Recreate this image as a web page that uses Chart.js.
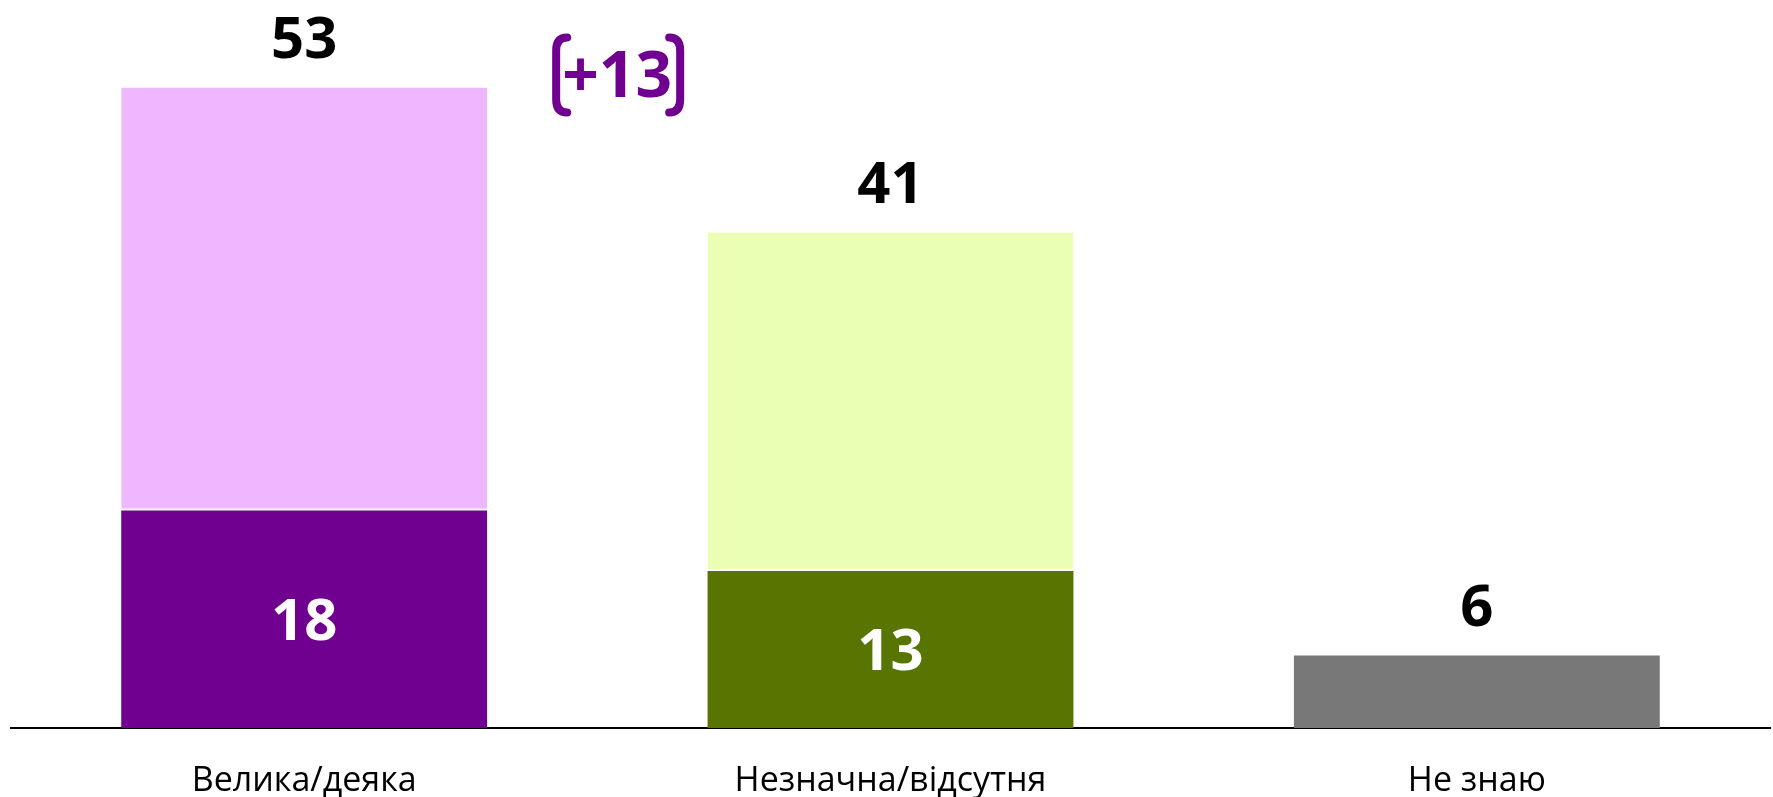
<!DOCTYPE html>
<html>
<head>
<meta charset="utf-8">
<script src="https://cdn.jsdelivr.net/npm/chart.js@4/dist/chart.umd.min.js"></script>
<style>
  html, body { margin: 0; padding: 0; background: #ffffff; }
  #wrap { width: 1773px; height: 797px; position: relative; }
</style>
</head>
<body>
<div id="wrap"><canvas id="c" width="1773" height="797"></canvas></div>
<script>
// ---- data ----
const categories = ['Велика/деяка', 'Незначна/відсутня', 'Не знаю'];
const baseValues = [18, 13, 6];      // dark segment (or whole bar for "Не знаю")
const restValues = [35, 28, 0];      // light segment stacked on top
const totalLabels = ['53', '41', '6'];
const innerLabels = ['18', '13', ''];
const changeLabel = '+13';

// ---- styles ----
const darkColors = ['#700090', '#577500', '#787878'];
const lightColors = ['#EEB7FF', '#EAFFB4', '#EAEAEA'];
const numFont = 'bold 58px "Open Sans", sans-serif';
const changeFont = 'bold 64px "Open Sans", sans-serif';

const labelsPlugin = {
  id: 'valueLabels',
  afterDatasetsDraw(chart) {
    const ctx = chart.ctx;
    const xs = chart.scales.x, ys = chart.scales.y;
    ctx.save();
    ctx.font = numFont;
    ctx.textAlign = 'center';
    categories.forEach((c, i) => {
      const x = xs.getPixelForValue(i);
      const topVal = baseValues[i] + restValues[i];
      const yTop = ys.getPixelForValue(topVal);
      ctx.fillStyle = '#000000';
      ctx.textBaseline = 'alphabetic';
      ctx.fillText(totalLabels[i], x, yTop - 30);
      if (innerLabels[i]) {
        const yMid = (ys.getPixelForValue(0) + ys.getPixelForValue(baseValues[i])) / 2;
        ctx.fillStyle = '#ffffff';
        ctx.textBaseline = 'middle';
        ctx.fillText(innerLabels[i], x, yMid + 4);
      }
    });
    // change annotation with brackets
    const cx = xs.getPixelForValue(0) + 313;
    const cy = ys.getPixelForValue(baseValues[0] + restValues[0]) - 12;
    ctx.font = changeFont;
    ctx.fillStyle = '#700090';
    ctx.textBaseline = 'middle';
    ctx.fillText(changeLabel, cx, cy + 3);
    ctx.strokeStyle = '#700090';
    ctx.lineWidth = 8;
    ctx.lineCap = 'round';
    const top = cy - 38, bot = cy + 37, r = 13;
    const xl = cx - 61, xr = cx + 63;
    ctx.beginPath();
    ctx.moveTo(xl + 11, top);
    ctx.quadraticCurveTo(xl, top, xl, top + r);
    ctx.lineTo(xl, bot - r);
    ctx.quadraticCurveTo(xl, bot, xl + 11, bot);
    ctx.stroke();
    ctx.beginPath();
    ctx.moveTo(xr - 11, top);
    ctx.quadraticCurveTo(xr, top, xr, top + r);
    ctx.lineTo(xr, bot - r);
    ctx.quadraticCurveTo(xr, bot, xr - 11, bot);
    ctx.stroke();
    ctx.restore();
  }
};

new Chart(document.getElementById('c'), {
  type: 'bar',
  data: {
    labels: categories,
    datasets: [
      {
        data: baseValues,
        backgroundColor: darkColors,
        borderWidth: 0,
        categoryPercentage: 1,
        barPercentage: 0.624
      },
      {
        data: restValues,
        backgroundColor: lightColors,
        borderColor: '#ffffff',
        borderWidth: { top: 0, left: 0, right: 0, bottom: 2 },
        borderSkipped: false,
        categoryPercentage: 1,
        barPercentage: 0.624
      }
    ]
  },
  options: {
    responsive: false,
    animation: false,
    devicePixelRatio: 1,
    layout: { padding: { left: 11, right: 3, top: 3, bottom: 0 } },
    plugins: { legend: { display: false }, tooltip: { enabled: false } },
    scales: {
      x: {
        stacked: true,
        grid: { display: false, drawTicks: false },
        border: { display: true, color: '#000000', width: 2 },
        ticks: {
          color: '#000000',
          font: { family: '"Open Sans", sans-serif', size: 34 },
          padding: 33
        },
        afterFit(scale) { scale.height = 69; }
      },
      y: {
        stacked: true,
        display: false,
        min: 0,
        max: 60
      }
    }
  },
  plugins: [labelsPlugin]
});
</script>
</body>
</html>
